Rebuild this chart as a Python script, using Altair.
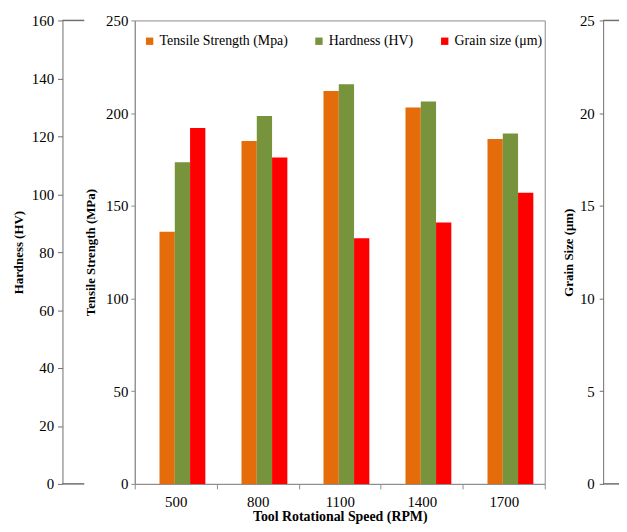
import altair as alt
import pandas as pd

speeds = ["500", "800", "1100", "1400", "1700"]
series_names = ["Tensile Strength (Mpa)", "Hardness (HV)", "Grain size (μm)"]
tensile = [136, 185, 212, 203, 186]
hardness = [111, 127, 138, 132, 121]
grain = [19.2, 17.6, 13.25, 14.1, 15.7]
colors = ["#E46C0A", "#77933C", "#FF0000"]

rows = []
for name, vals in zip(series_names, [tensile, hardness, grain]):
    for s, v in zip(speeds, vals):
        rows.append({"speed": s, "series": name, "value": v})
df = pd.DataFrame(rows)

FONT = "Liberation Serif, Times New Roman, serif"
W, H = 414, 468

x_enc = alt.X("speed:N", sort=speeds,
              scale=alt.Scale(paddingInner=0, paddingOuter=0),
              axis=alt.Axis(title="Tool Rotational Speed (RPM)", labelAngle=0,
                            tickBand="extent", tickSize=5, labelPadding=6,
                            titlePadding=0, titleFontSize=14,
                            domainColor="#8c8c8c", tickColor="#8c8c8c"))
offset_domain = ["_gap"] + series_names
xoff = alt.XOffset("series:N",
                   scale=alt.Scale(domain=offset_domain, paddingInner=0,
                                   paddingOuter=0.683, align=0.454))
color = alt.Color("series:N", sort=series_names,
                  scale=alt.Scale(domain=series_names, range=colors),
                  legend=alt.Legend(title=None, orient="none", legendX=8, legendY=14,
                                    direction="horizontal", symbolType="square",
                                    symbolSize=55, symbolStrokeWidth=0,
                                    labelFont=FONT, labelFontSize=14, labelColor="black",
                                    columnPadding=24, labelOffset=3))

base = alt.Chart(df)

t_layer = base.transform_filter(alt.datum.series == series_names[0]).mark_bar().encode(
    x=x_enc, xOffset=xoff, color=color,
    y=alt.Y("value:Q", scale=alt.Scale(domain=[0, 250], nice=False),
            axis=alt.Axis(title="Tensile Strength (MPa)", orient="left",
                          values=[0, 50, 100, 150, 200, 250], tickSize=4,
                          labelPadding=3, titlePadding=8, grid=False,
                          domainColor="#8c8c8c", tickColor="#8c8c8c")))

h_layer = base.transform_filter(alt.datum.series == series_names[1]).mark_bar().encode(
    x=x_enc, xOffset=xoff, color=color,
    y=alt.Y("value:Q", scale=alt.Scale(domain=[0, 160], nice=False),
            axis=alt.Axis(title="Hardness (HV)", orient="left", offset=73,
                          values=list(range(0, 161, 20)), tickSize=5,
                          labelPadding=4, titlePadding=6, grid=False,
                          domainColor="#6e6e6e", tickColor="#6e6e6e")))

g_layer = base.transform_filter(alt.datum.series == series_names[2]).mark_bar().encode(
    x=x_enc, xOffset=xoff, color=color,
    y=alt.Y("value:Q", scale=alt.Scale(domain=[0, 25], nice=False),
            axis=alt.Axis(title="Grain Size (μm)", orient="left", offset=-473,
                          values=[0, 5, 10, 15, 20, 25], tickSize=4,
                          labelPadding=5, titlePadding=4, grid=False,
                          domainColor="#6e6e6e", tickColor="#6e6e6e")))

cap_df = pd.DataFrame({"k": [0]})
caps = []
for yv in [0, H]:
    caps.append(alt.Chart(cap_df).mark_rule(color="#6e6e6e", strokeWidth=1.5).encode(
        x=alt.value(-73), x2=alt.value(-51), y=alt.value(yv)))
    caps.append(alt.Chart(cap_df).mark_rule(color="#6e6e6e", strokeWidth=1.5).encode(
        x=alt.value(473), x2=alt.value(495), y=alt.value(yv)))

chart = alt.layer(t_layer, h_layer, g_layer, *caps).resolve_scale(
    y="independent"
).properties(
    width=W, height=H,
    autosize=alt.AutoSizeParams(type="none"),
    padding={"left": 128, "top": 10, "right": 75, "bottom": 44},
).configure_view(
    stroke="#8c8c8c", strokeWidth=1
).configure_axis(
    labelFont=FONT, labelFontSize=15, labelColor="black",
    titleFont=FONT, titleFontSize=13, titleFontWeight="bold", titleColor="black",
)

chart.save("out.html", embed_options={"renderer": "svg", "actions": False})
